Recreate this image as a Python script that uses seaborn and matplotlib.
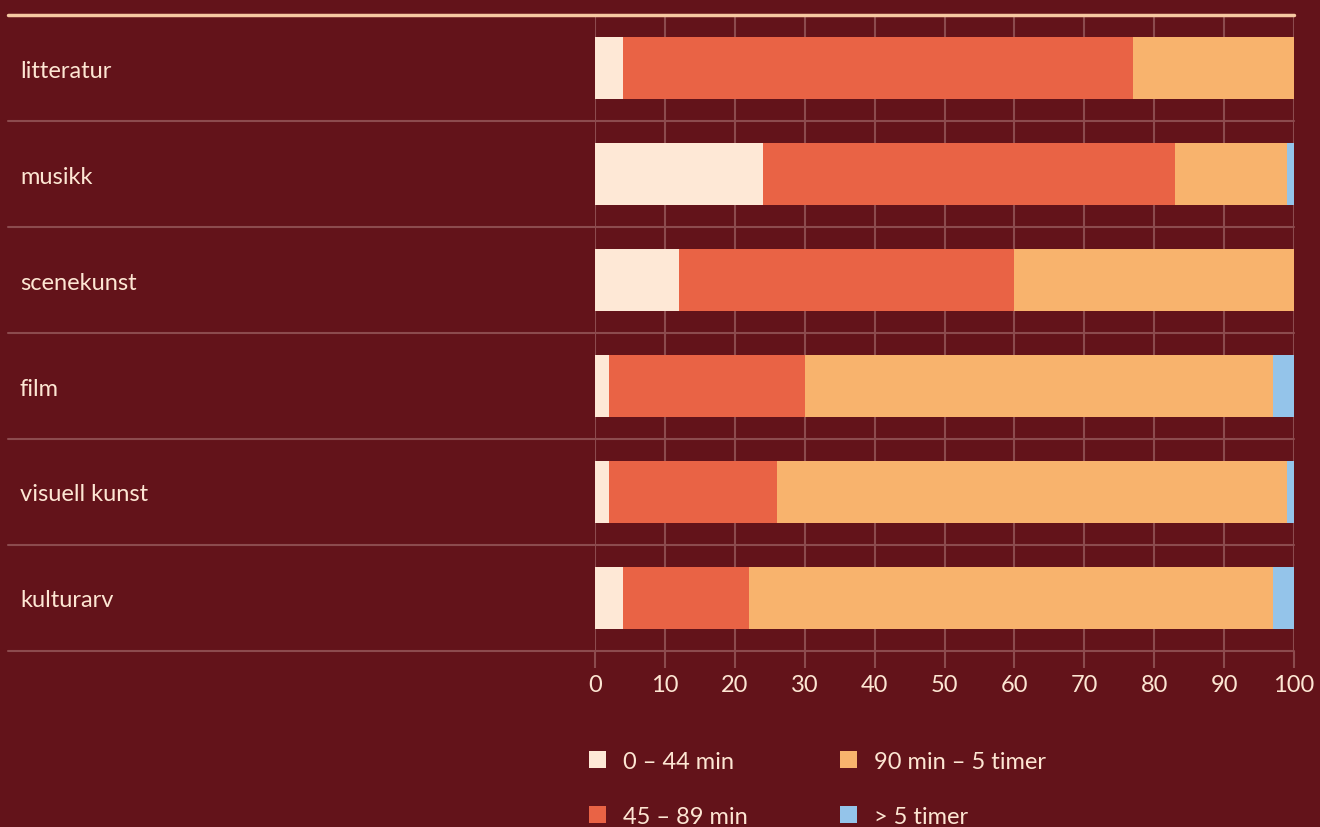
import matplotlib
matplotlib.use("Agg")
import matplotlib.pyplot as plt
import seaborn as sns
import pandas as pd
from matplotlib.patches import Patch

# ---- data ----
categories = ["litteratur", "musikk", "scenekunst", "film", "visuell kunst", "kulturarv"]
series_names = ["0 – 44 min", "45 – 89 min", "90 min – 5 timer", "> 5 timer"]
v_0_44 = [4, 24, 12, 2, 2, 4]
v_45_89 = [73, 59, 48, 28, 24, 18]
v_90_5t = [23, 16, 40, 67, 73, 75]
v_over5 = [0, 1, 0, 3, 1, 3]
x_ticks = [0, 10, 20, 30, 40, 50, 60, 70, 80, 90, 100]

# ---- style ----
colors = ["#FEE8D6", "#E96345", "#F8B36D", "#94C4EA"]
BG = "#63131A"
TEXT = "#FDE6D3"
GRID = "#8C4B4E"
TOPLINE = "#F6C9A2"

sns.set_theme(style="white")
plt.rcParams["font.family"] = ["Lato", "DejaVu Sans"]

fig = plt.figure(figsize=(13.2, 8.28), dpi=100, facecolor=BG)
ax = fig.add_axes([595 / 1320, 1 - 652 / 828, 699 / 1320, 636 / 828])
ax.set_facecolor(BG)

df = pd.DataFrame({
    "kategori": categories,
    series_names[0]: v_0_44,
    series_names[1]: v_45_89,
    series_names[2]: v_90_5t,
    series_names[3]: v_over5,
})
cum = df[series_names].cumsum(axis=1)

for name, color in reversed(list(zip(series_names, colors))):
    sns.barplot(x=cum[name], y=df["kategori"], color=color, orient="h",
                width=0.585, saturation=1, linewidth=0, errorbar=None,
                ax=ax, zorder=3)

ax.set_xlim(0, 100)
ax.set_ylim(5.5, -0.5)
ax.set_xticks(x_ticks)
ax.set_xticklabels([str(t) for t in x_ticks])
ax.grid(axis="x", color=GRID, lw=1.5)
ax.grid(axis="y", visible=False)
ax.set_axisbelow(True)
for s in ax.spines.values():
    s.set_visible(False)

ax.tick_params(axis="x", bottom=True, direction="out", length=12.5, width=1.5,
               color=GRID, labelcolor=TEXT, labelsize=17, pad=4)
ax.set_yticks(range(len(categories)))
ax.set_yticklabels(categories)
ax.tick_params(axis="y", left=False, length=0, pad=(595 - 20) * 0.72,
               labelcolor=TEXT, labelsize=17)
for lbl in ax.get_yticklabels():
    lbl.set_ha("left")
ax.set_xlabel("")
ax.set_ylabel("")

xmin_ext = (8 - 595) / 699
for k in range(len(categories)):
    ax.axhline(k + 0.5, xmin=xmin_ext, xmax=1, color=GRID, lw=1.5,
               clip_on=False, zorder=2)
ax.axhline(-0.5, xmin=xmin_ext, xmax=1, color=TOPLINE, lw=2.5,
           clip_on=False, zorder=5)

handles = [Patch(facecolor=c, edgecolor="none", label=n)
           for n, c in zip(series_names, colors)]
fig.legend(handles=handles, loc="upper left",
           bbox_to_anchor=(589 / 1320, 1 - 752 / 828), ncol=2, frameon=False,
           fontsize=17, labelcolor=TEXT, handlelength=0.72, handleheight=0.72,
           handletextpad=0.72, columnspacing=3.92, labelspacing=1.43,
           borderpad=0, borderaxespad=0)

fig.savefig("out.png", dpi=100, facecolor=BG)
